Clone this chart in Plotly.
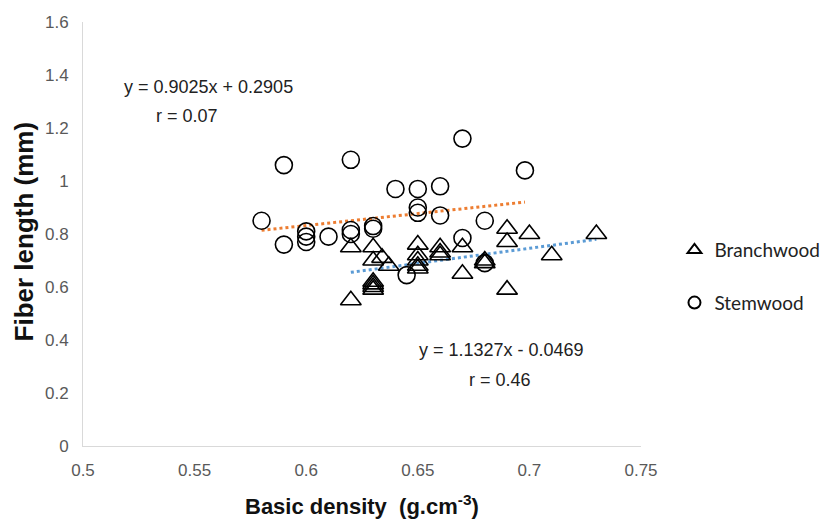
import plotly.graph_objects as go

# Stemwood (circles)
stem_x = [0.58, 0.59, 0.59, 0.60, 0.60, 0.60, 0.61, 0.62, 0.62, 0.62, 0.63, 0.63,
          0.64, 0.645, 0.65, 0.65, 0.65, 0.66, 0.66, 0.67, 0.67, 0.68, 0.68, 0.698]
stem_y = [0.85, 1.06, 0.76, 0.81, 0.79, 0.77, 0.79, 1.08, 0.815, 0.80, 0.83, 0.82,
          0.97, 0.645, 0.97, 0.90, 0.88, 0.98, 0.87, 1.16, 0.785, 0.85, 0.69, 1.04]

# Branchwood (triangles)
branch_x = [0.62, 0.62, 0.63, 0.63, 0.63, 0.63, 0.63, 0.63, 0.634, 0.637,
            0.65, 0.65, 0.65, 0.65, 0.65, 0.66, 0.66, 0.66, 0.67, 0.67,
            0.68, 0.68, 0.69, 0.69, 0.69, 0.70, 0.71, 0.73]
branch_y = [0.55, 0.75, 0.75, 0.70, 0.62, 0.61, 0.60, 0.59, 0.71, 0.68,
            0.76, 0.72, 0.70, 0.68, 0.67, 0.75, 0.73, 0.72, 0.75, 0.65,
            0.70, 0.69, 0.82, 0.77, 0.59, 0.80, 0.72, 0.80]

stem_eq = (0.9025, 0.2905)
branch_eq = (1.1327, -0.0469)

x_ticks = [0.5, 0.55, 0.6, 0.65, 0.7, 0.75]
x_tick_text = ["0.5", "0.55", "0.6", "0.65", "0.7", "0.75"]
y_ticks = [0, 0.2, 0.4, 0.6, 0.8, 1.0, 1.2, 1.4, 1.6]
y_tick_text = ["0", "0.2", "0.4", "0.6", "0.8", "1", "1.2", "1.4", "1.6"]

fig = go.Figure()

# trend lines
sx = [min(stem_x), max(stem_x)]
fig.add_trace(go.Scatter(x=sx, y=[stem_eq[0] * v + stem_eq[1] for v in sx], mode="lines",
                         line=dict(color="#ED7D31", width=3, dash="dot"), showlegend=False,
                         hoverinfo="skip"))
bx = [min(branch_x), max(branch_x)]
fig.add_trace(go.Scatter(x=bx, y=[branch_eq[0] * v + branch_eq[1] for v in bx], mode="lines",
                         line=dict(color="#5B9BD5", width=3, dash="dot"), showlegend=False,
                         hoverinfo="skip"))

fig.add_trace(go.Scatter(x=branch_x, y=branch_y, mode="markers", name="Branchwood",
                         legendgroup="b",
                         marker=dict(symbol="triangle-up-open", size=18, color="black",
                                     line=dict(width=1.6, color="black"))))
fig.add_trace(go.Scatter(x=stem_x, y=stem_y, mode="markers", name="Stemwood",
                         legendgroup="s",
                         marker=dict(symbol="circle-open", size=17, color="black",
                                     line=dict(width=1.6, color="black"))))

ann_font = dict(family="Liberation Sans, Arial", size=18, color="#222222")
fig.add_annotation(x=0.5561, y=1.355, xref="x", yref="y", text="y = 0.9025x + 0.2905",
                   showarrow=False, font=ann_font)
fig.add_annotation(x=0.5468, y=1.245, xref="x", yref="y", text="r = 0.07",
                   showarrow=False, font=ann_font)
fig.add_annotation(x=0.6877, y=0.362, xref="x", yref="y", text="y = 1.1327x - 0.0469",
                   showarrow=False, font=ann_font)
fig.add_annotation(x=0.6868, y=0.249, xref="x", yref="y", text="r = 0.46",
                   showarrow=False, font=ann_font)

fig.add_annotation(x=0.5, y=-0.139, xref="paper", yref="paper", xanchor="center",
                   yanchor="middle", text="<b>Basic density  (g.cm<sup>-3</sup>)</b>",
                   showarrow=False, font=dict(family="Liberation Sans, Arial", size=22,
                                              color="#111111"))
fig.add_annotation(x=-0.105, y=0.507, xref="paper", yref="paper", xanchor="center",
                   yanchor="middle", text="<b>Fiber length (mm)</b>", textangle=-90,
                   showarrow=False, font=dict(family="Liberation Sans, Arial", size=26,
                                              color="#111111"))

axis_common = dict(showgrid=False, zeroline=False, showline=True, linecolor="#d9d9d9",
                   linewidth=1, ticks="", automargin=False,
                   tickfont=dict(family="Liberation Sans, Arial", size=17, color="#595959"))

fig.update_xaxes(range=[0.5, 0.75], tickvals=x_ticks, ticktext=x_tick_text,
                 ticklabelstandoff=9, **axis_common)
fig.update_yaxes(range=[0, 1.6], tickvals=y_ticks, ticktext=y_tick_text,
                 ticklabelstandoff=10, **axis_common)

fig.update_layout(
    width=829, height=515,
    margin=dict(l=75, r=185, t=14, b=77),
    plot_bgcolor="white", paper_bgcolor="white",
    legend=dict(x=1.06, y=0.507, xanchor="left", yanchor="top",
                font=dict(family="Lato, Liberation Sans", size=19, color="#222222"),
                itemsizing="constant", tracegroupgap=25, itemwidth=30),
)

fig.write_html("out.html")
